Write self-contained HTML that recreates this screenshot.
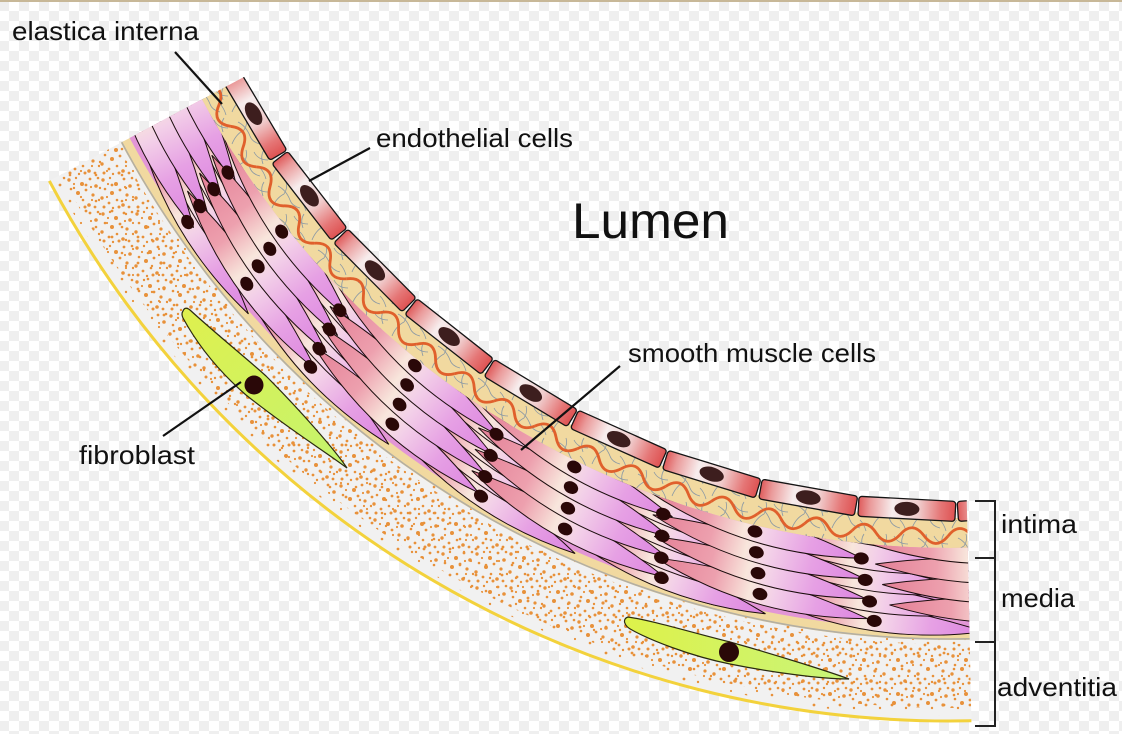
<!DOCTYPE html>
<html><head><meta charset="utf-8"><style>html,body{margin:0;padding:0;background:#fff}svg{display:block}</style></head>
<body>
<svg width="1122" height="734" viewBox="0 0 1122 734">
<defs>
<pattern id="chk" x="-1" y="1" width="20" height="20" patternUnits="userSpaceOnUse"><rect width="20" height="20" fill="#fff"/><rect width="10" height="10" fill="#efefef"/><rect x="10" y="10" width="10" height="10" fill="#efefef"/></pattern>
<linearGradient id="gEc" x1="0" y1="0" x2="1" y2="0">
<stop offset="0" stop-color="#df5b5b"/><stop offset="0.12" stop-color="#ea9a9a"/><stop offset="0.35" stop-color="#f7eded"/><stop offset="0.62" stop-color="#f0cccc"/><stop offset="0.85" stop-color="#e57676"/><stop offset="1" stop-color="#de5252"/>
</linearGradient>
<linearGradient id="gMc" x1="0" y1="0" x2="1" y2="0">
<stop offset="0" stop-color="#e47f96"/><stop offset="0.28" stop-color="#eda0ae"/><stop offset="0.45" stop-color="#f8e6dc"/><stop offset="0.56" stop-color="#f3d0e8"/><stop offset="0.76" stop-color="#e6a0e4"/><stop offset="1" stop-color="#dc84e0"/>
</linearGradient>
<linearGradient id="gFb1" x1="0" y1="0" x2="1" y2="1"><stop offset="0" stop-color="#dff04e"/><stop offset="1" stop-color="#c4f46e"/></linearGradient>
<linearGradient id="gFb2" x1="0" y1="0" x2="1" y2="0"><stop offset="0" stop-color="#def24a"/><stop offset="1" stop-color="#c8f47a"/></linearGradient>
<pattern id="dots1" width="34" height="34" patternUnits="userSpaceOnUse"><g fill="#e8913a">
<circle cx="3" cy="4" r="1.7"/><circle cx="10" cy="2" r="1.2"/><circle cx="16" cy="8" r="2"/><circle cx="24" cy="3" r="1.4"/><circle cx="30" cy="10" r="1.8"/><circle cx="5" cy="13" r="1.3"/><circle cx="12" cy="17" r="2"/><circle cx="20" cy="14" r="1.4"/><circle cx="27" cy="19" r="1.6"/><circle cx="33" cy="24" r="1.2"/><circle cx="2" cy="22" r="1.7"/><circle cx="9" cy="27" r="1.4"/><circle cx="17" cy="24" r="1.3"/><circle cx="23" cy="29" r="1.8"/><circle cx="29" cy="31" r="1.4"/><circle cx="4" cy="31" r="1.5"/><circle cx="13" cy="32" r="1.2"/><circle cx="25" cy="11" r="1.1"/><circle cx="19" cy="31" r="1.5"/><circle cx="8" cy="8" r="1.1"/><circle cx="32" cy="2" r="1.3"/><circle cx="26" cy="24" r="1.1"/>
</g></pattern>
<pattern id="dots2" width="26" height="26" patternUnits="userSpaceOnUse"><g fill="#e8913a"><circle cx="4" cy="7" r="1.3"/><circle cx="15" cy="3" r="1.1"/><circle cx="20" cy="17" r="1.4"/><circle cx="8" cy="20" r="1.2"/></g></pattern>
<pattern id="fib" width="40" height="32" patternUnits="userSpaceOnUse"><path d="M2,28 Q6,18 14,14 M8,6 Q16,10 20,20 Q22,26 30,28 M24,4 Q28,12 38,12 M30,20 Q34,24 36,31 M14,14 Q18,8 16,2 M34,2 Q30,8 33,16" stroke="#8a98a4" stroke-width="0.8" fill="none"/></pattern>
<g id="ec"><rect x="-48.5" y="0" width="97" height="20" rx="3" fill="url(#gEc)" stroke="#151515" stroke-width="1.3"/><ellipse cx="0" cy="10" rx="12.5" ry="7" fill="#3d1e1e"/></g>
<path id="mc" transform="rotate(4)" d="M-110,-6 Q0,-24 110,-6 Q0,26 -110,-6 Z" fill="url(#gMc)" stroke="#1b0d0d" stroke-width="1"/>
<ellipse id="nu" transform="rotate(4)" rx="7.5" ry="6" fill="#2a0808"/>
<path id="lw" d="M-24,0 C-16,-10 -8,-10 0,0 S16,10 24,0" fill="none" stroke="#e0602c" stroke-width="2.8"/>
<clipPath id="cpM"><path d="M-748.05,399.42 A848,848 0 0 0 17.76,847.81 L19.60,935.80 A936,936 0 0 1 -825.67,440.87 Z"/></clipPath>
<clipPath id="cpI"><path d="M-721.58,385.29 A818,818 0 0 0 17.13,817.82 L17.97,857.81 A858,858 0 0 1 -756.87,404.13 Z"/></clipPath>
<clipPath id="cpE"><path d="M-703.06,375.39 A797,797 0 0 0 16.69,796.83 L17.24,822.82 A823,823 0 0 1 -725.99,387.64 Z"/></clipPath>
</defs>

<rect width="1122" height="734" fill="url(#chk)"/>
<rect x="0" y="0" width="1122" height="2" fill="#c8b898"/>

<g transform="translate(950,-300)">
<path d="M-827.44,441.81 A938,938 0 0 0 19.64,937.79 L21.40,1021.78 A1022,1022 0 0 1 -901.54,481.37 Z" fill="#f1f1f1"/>
<path d="M-827.44,441.81 A938,938 0 0 0 19.64,937.79 L21.28,1015.78 A1016,1016 0 0 1 -896.24,478.55 Z" fill="url(#dots2)"/>
<path d="M-832.73,444.63 A944,944 0 0 0 19.77,943.79 L21.11,1007.78 A1008,1008 0 0 1 -889.19,474.78 Z" fill="url(#dots1)"/>
<path d="M-816.85,436.16 A926,926 0 0 0 19.39,925.80 L19.69,939.79 A940,940 0 0 1 -829.20,442.75 Z" fill="#f1d9a0"/>
<path d="M-828.32,442.28 A939,939 0 0 0 19.66,938.79" fill="none" stroke="#b4afa2" stroke-width="1.6"/>
<path d="M-721.58,385.29 A818,818 0 0 0 17.13,817.82 L18.01,859.81 A860,860 0 0 1 -758.63,405.07 Z" fill="#f1d9a0"/>
<path d="M-723.35,386.23 A820,820 0 0 0 17.17,819.82 L17.97,857.81 A858,858 0 0 1 -756.87,404.13 Z" fill="url(#fib)"/>
<path d="M-748.05,399.42 A848,848 0 0 0 17.76,847.81 L19.48,929.80 A930,930 0 0 1 -820.38,438.04 Z" fill="#e296d6"/>
<g clip-path="url(#cpM)">
<use href="#mc" transform="rotate(55.6) translate(0,924)"/>
<use href="#mc" transform="rotate(56.0) translate(0,905)"/>
<use href="#mc" transform="rotate(56.4) translate(0,884)"/>
<use href="#mc" transform="rotate(56.8) translate(0,863)"/>
<use href="#mc" transform="rotate(43.8) translate(0,924)"/>
<use href="#mc" transform="rotate(44.2) translate(0,905)"/>
<use href="#mc" transform="rotate(44.6) translate(0,884)"/>
<use href="#mc" transform="rotate(45.0) translate(0,863)"/>
<use href="#mc" transform="rotate(30.5) translate(0,924)"/>
<use href="#mc" transform="rotate(30.9) translate(0,905)"/>
<use href="#mc" transform="rotate(31.3) translate(0,884)"/>
<use href="#mc" transform="rotate(31.7) translate(0,863)"/>
<use href="#mc" transform="rotate(18.2) translate(0,924)"/>
<use href="#mc" transform="rotate(18.6) translate(0,905)"/>
<use href="#mc" transform="rotate(19.0) translate(0,884)"/>
<use href="#mc" transform="rotate(19.4) translate(0,863)"/>
<use href="#mc" transform="rotate(4.7) translate(0,924)"/>
<use href="#mc" transform="rotate(5.1) translate(0,905)"/>
<use href="#mc" transform="rotate(5.5) translate(0,884)"/>
<use href="#mc" transform="rotate(5.9) translate(0,863)"/>
<use href="#mc" transform="rotate(61.96) translate(0,914)"/>
<use href="#mc" transform="rotate(62.36) translate(0,894)"/>
<use href="#mc" transform="rotate(62.76) translate(0,874)"/>
<use href="#mc" transform="rotate(63.16) translate(0,854)"/>
<use href="#mc" transform="rotate(50.3) translate(0,914)"/>
<use href="#mc" transform="rotate(50.7) translate(0,894)"/>
<use href="#mc" transform="rotate(51.1) translate(0,874)"/>
<use href="#mc" transform="rotate(51.5) translate(0,854)"/>
<use href="#mc" transform="rotate(37.6) translate(0,914)"/>
<use href="#mc" transform="rotate(38.0) translate(0,894)"/>
<use href="#mc" transform="rotate(38.4) translate(0,874)"/>
<use href="#mc" transform="rotate(38.8) translate(0,854)"/>
<use href="#mc" transform="rotate(24.9) translate(0,914)"/>
<use href="#mc" transform="rotate(25.3) translate(0,894)"/>
<use href="#mc" transform="rotate(25.7) translate(0,874)"/>
<use href="#mc" transform="rotate(26.1) translate(0,854)"/>
<use href="#mc" transform="rotate(12.0) translate(0,914)"/>
<use href="#mc" transform="rotate(12.4) translate(0,894)"/>
<use href="#mc" transform="rotate(12.8) translate(0,874)"/>
<use href="#mc" transform="rotate(13.2) translate(0,854)"/>
<use href="#mc" transform="rotate(-3.1) translate(0,914)"/>
<use href="#mc" transform="rotate(-2.7) translate(0,894)"/>
<use href="#mc" transform="rotate(-2.3) translate(0,874)"/>
<use href="#mc" transform="rotate(-1.9) translate(0,854)"/>
<use href="#nu" transform="rotate(55.6) translate(0,924)"/>
<use href="#nu" transform="rotate(56.0) translate(0,905)"/>
<use href="#nu" transform="rotate(56.4) translate(0,884)"/>
<use href="#nu" transform="rotate(56.8) translate(0,863)"/>
<use href="#nu" transform="rotate(43.8) translate(0,924)"/>
<use href="#nu" transform="rotate(44.2) translate(0,905)"/>
<use href="#nu" transform="rotate(44.6) translate(0,884)"/>
<use href="#nu" transform="rotate(45.0) translate(0,863)"/>
<use href="#nu" transform="rotate(30.5) translate(0,924)"/>
<use href="#nu" transform="rotate(30.9) translate(0,905)"/>
<use href="#nu" transform="rotate(31.3) translate(0,884)"/>
<use href="#nu" transform="rotate(31.7) translate(0,863)"/>
<use href="#nu" transform="rotate(18.2) translate(0,924)"/>
<use href="#nu" transform="rotate(18.6) translate(0,905)"/>
<use href="#nu" transform="rotate(19.0) translate(0,884)"/>
<use href="#nu" transform="rotate(19.4) translate(0,863)"/>
<use href="#nu" transform="rotate(4.7) translate(0,924)"/>
<use href="#nu" transform="rotate(5.1) translate(0,905)"/>
<use href="#nu" transform="rotate(5.5) translate(0,884)"/>
<use href="#nu" transform="rotate(5.9) translate(0,863)"/>
<use href="#nu" transform="rotate(50.3) translate(0,914)"/>
<use href="#nu" transform="rotate(50.7) translate(0,894)"/>
<use href="#nu" transform="rotate(51.1) translate(0,874)"/>
<use href="#nu" transform="rotate(51.5) translate(0,854)"/>
<use href="#nu" transform="rotate(37.6) translate(0,914)"/>
<use href="#nu" transform="rotate(38.0) translate(0,894)"/>
<use href="#nu" transform="rotate(38.4) translate(0,874)"/>
<use href="#nu" transform="rotate(38.8) translate(0,854)"/>
<use href="#nu" transform="rotate(24.9) translate(0,914)"/>
<use href="#nu" transform="rotate(25.3) translate(0,894)"/>
<use href="#nu" transform="rotate(25.7) translate(0,874)"/>
<use href="#nu" transform="rotate(26.1) translate(0,854)"/>
<use href="#nu" transform="rotate(12.0) translate(0,914)"/>
<use href="#nu" transform="rotate(12.4) translate(0,894)"/>
<use href="#nu" transform="rotate(12.8) translate(0,874)"/>
<use href="#nu" transform="rotate(13.2) translate(0,854)"/>
</g>
<g clip-path="url(#cpI)">
<use href="#lw" transform="rotate(-1.5) translate(0,836)"/>
<use href="#lw" transform="rotate(1.79) translate(0,836)"/>
<use href="#lw" transform="rotate(5.08) translate(0,836)"/>
<use href="#lw" transform="rotate(8.37) translate(0,836)"/>
<use href="#lw" transform="rotate(11.66) translate(0,836)"/>
<use href="#lw" transform="rotate(14.95) translate(0,836)"/>
<use href="#lw" transform="rotate(18.24) translate(0,836)"/>
<use href="#lw" transform="rotate(21.53) translate(0,836)"/>
<use href="#lw" transform="rotate(24.82) translate(0,836)"/>
<use href="#lw" transform="rotate(28.11) translate(0,836)"/>
<use href="#lw" transform="rotate(31.40) translate(0,836)"/>
<use href="#lw" transform="rotate(34.69) translate(0,836)"/>
<use href="#lw" transform="rotate(37.98) translate(0,836)"/>
<use href="#lw" transform="rotate(41.27) translate(0,836)"/>
<use href="#lw" transform="rotate(44.56) translate(0,836)"/>
<use href="#lw" transform="rotate(47.85) translate(0,836)"/>
<use href="#lw" transform="rotate(51.14) translate(0,836)"/>
<use href="#lw" transform="rotate(54.42) translate(0,836)"/>
<use href="#lw" transform="rotate(57.71) translate(0,836)"/>
<use href="#lw" transform="rotate(61.00) translate(0,836)"/>
<use href="#lw" transform="rotate(64.29) translate(0,836)"/>
</g>
<g clip-path="url(#cpE)">
<use href="#ec" transform="rotate(-3.98) translate(0,800)"/>
<use href="#ec" transform="rotate(3.05) translate(0,800)"/>
<use href="#ec" transform="rotate(10.08) translate(0,800)"/>
<use href="#ec" transform="rotate(17.11) translate(0,800)"/>
<use href="#ec" transform="rotate(24.14) translate(0,800)"/>
<use href="#ec" transform="rotate(31.17) translate(0,800)"/>
<use href="#ec" transform="rotate(38.2) translate(0,800)"/>
<use href="#ec" transform="rotate(45.23) translate(0,800)"/>
<use href="#ec" transform="rotate(52.26) translate(0,800)"/>
<use href="#ec" transform="rotate(59.29) translate(0,800)"/>
</g>
<path d="M-900.65,480.90 A1021,1021 0 0 0 21.38,1020.78" fill="none" stroke="#f3d23c" stroke-width="3"/>
</g>

<path d="M183,311 Q185,306 190,310 C215,333 252,363 266,376 C300,410 335,450 347,468 C320,448 290,430 246,395 C215,368 195,340 183,318 Q181,314 183,311 Z" fill="url(#gFb1)" stroke="#2a2a10" stroke-width="1.2"/>
<circle cx="254" cy="385" r="9.5" fill="#2a0808"/>
<path d="M628,617 C650,620 690,632 730,642 C780,656 830,672 849,679 C820,679 770,672 730,664 C690,656 650,640 632,630 C624,626 622,619 628,617 Z" fill="url(#gFb2)" stroke="#2a2a10" stroke-width="1.2"/>
<circle cx="729" cy="652" r="10" fill="#2a0808"/>

<g stroke="#111" stroke-width="2.2" fill="none">
<path d="M175,52 L222,104"/>
<path d="M370,148 L309,181"/>
<path d="M620,366 L521,450"/>
<path d="M163,436 L241,382"/>
</g>
<path d="M975,501 H995 V726 H975 M975,558 H995 M975,642 H995" fill="none" stroke="#222" stroke-width="2"/>

<g font-family="'Liberation Sans', sans-serif" fill="#111" font-size="26">
<text x="12" y="40" textLength="187" lengthAdjust="spacingAndGlyphs">elastica interna</text>
<text x="376" y="147" textLength="197" lengthAdjust="spacingAndGlyphs">endothelial cells</text>
<text x="572" y="238" font-size="50" textLength="157" lengthAdjust="spacingAndGlyphs">Lumen</text>
<text x="628" y="362" textLength="248" lengthAdjust="spacingAndGlyphs">smooth muscle cells</text>
<text x="79" y="464" textLength="116" lengthAdjust="spacingAndGlyphs">fibroblast</text>
<text x="1001" y="533" textLength="76" lengthAdjust="spacingAndGlyphs">intima</text>
<text x="1001" y="607" textLength="74" lengthAdjust="spacingAndGlyphs">media</text>
<text x="997" y="696" textLength="120" lengthAdjust="spacingAndGlyphs">adventitia</text>
</g>
</svg>
</body></html>
